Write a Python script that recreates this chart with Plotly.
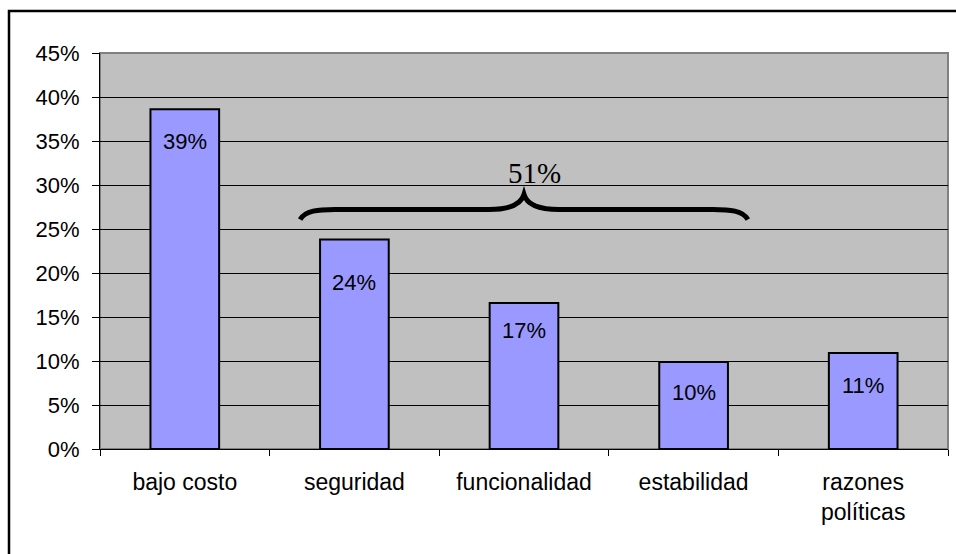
import plotly.graph_objects as go

# Survey shares by reason
categories = ["bajo costo", "seguridad", "funcionalidad", "estabilidad", "razones<br>políticas"]
shares = [0.386, 0.238, 0.166, 0.099, 0.109]
y_ticks = [0.0, 0.05, 0.10, 0.15, 0.20, 0.25, 0.30, 0.35, 0.40, 0.45]
y_tick_labels = ["0%", "5%", "10%", "15%", "20%", "25%", "30%", "35%", "40%", "45%"]

# the grouped reasons under the brace (seguridad, funcionalidad, estabilidad)
group_idx = [1, 2, 3]

# pixel offsets of each value label below its bar top
label_drop = [32, 43, 28, 31, 32]

FONT = "Liberation Sans, Arial, sans-serif"
W, H = 956, 554
M_L, M_R, M_T, M_B = 100, 8, 53, 105
Y_MAX = 0.45

fig = go.Figure()
fig.add_trace(go.Bar(
    x=categories,
    y=shares,
    marker=dict(color="#9999FF", line=dict(color="#000000", width=2)),
    hoverinfo="skip",
))

pct = [round(v * 100) for v in shares]
for c, v, p, d in zip(categories, shares, pct, label_drop):
    fig.add_annotation(
        x=c, y=v, text=f"{p}%", showarrow=False,
        yanchor="middle", yshift=-d,
        font=dict(family=FONT, size=22, color="#000000"),
    )

# brace spanning the grouped bars
n = len(categories)
def cx(i):
    return (i + 0.5) / n

left = cx(group_idx[0]) - 0.064
right = cx(group_idx[-1]) + 0.064
mid = (left + right) / 2
plot_w = W - M_L - M_R
plot_h = H - M_T - M_B
px_x = 1.0 / plot_w
px_y = Y_MAX / plot_h
base = max(shares[i] for i in group_idx) + 30 * px_y   # horizontal stroke
end_y = base - 10 * px_y                              # curled tips
peak = base + 15 * px_y                               # central cusp

def P(x, y):
    return f"{x:.5f},{y:.5f}"

path = (
    f"M {P(left, end_y)} "
    f"C {P(left + 5*px_x, base - 1*px_y)} {P(left + 18*px_x, base)} {P(left + 35*px_x, base)} "
    f"L {P(mid - 35*px_x, base)} "
    f"C {P(mid - 14*px_x, base)} {P(mid - 3*px_x, base + 5*px_y)} {P(mid, peak)} "
    f"C {P(mid + 3*px_x, base + 5*px_y)} {P(mid + 14*px_x, base)} {P(mid + 35*px_x, base)} "
    f"L {P(right - 35*px_x, base)} "
    f"C {P(right - 18*px_x, base)} {P(right - 5*px_x, base - 1*px_y)} {P(right, end_y)}"
)
fig.add_shape(type="path", path=path, xref="paper", yref="y",
              line=dict(color="#000000", width=5), layer="above")

group_total = sum(pct[i] for i in group_idx)
fig.add_annotation(
    x=mid + 10 * px_x, y=peak, xref="paper", yref="y",
    text=f"{group_total}%", showarrow=False, yanchor="bottom", yshift=4,
    font=dict(family="Liberation Serif, Times New Roman, serif", size=29, color="#000000"),
)

# plot area frame
fig.add_shape(type="rect", xref="paper", yref="paper", x0=0, y0=0, x1=1, y1=1,
              line=dict(color="#808080", width=2), layer="below")
# outer chart border
fig.add_shape(type="rect", xref="paper", yref="paper",
              x0=-(M_L - 9) / plot_w, y0=-0.5, x1=1.2, y1=1 + (M_T - 11) / plot_h,
              line=dict(color="#000000", width=2.5), layer="above")

fig.update_layout(
    width=W, height=H,
    margin=dict(l=M_L, r=M_R, t=M_T, b=M_B),
    paper_bgcolor="#FFFFFF",
    plot_bgcolor="#C0C0C0",
    bargap=0.595,
    showlegend=False,
    font=dict(family=FONT, size=22, color="#000000"),
    xaxis=dict(
        type="category",
        tickson="boundaries",
        ticks="outside", ticklen=6, tickcolor="#000000", tickwidth=1,
        showline=True, linecolor="#000000", linewidth=1,
        showgrid=False,
        ticklabelstandoff=12,
        tickfont=dict(family=FONT, size=23, color="#000000"),
    ),
    yaxis=dict(
        range=[0, Y_MAX],
        tickvals=y_ticks, ticktext=y_tick_labels,
        ticks="outside", ticklen=7, tickcolor="#000000", tickwidth=1,
        showline=True, linecolor="#000000", linewidth=1,
        showgrid=True, gridcolor="#000000", gridwidth=1,
        zeroline=False,
        ticklabelstandoff=8,
        tickfont=dict(family=FONT, size=22, color="#000000"),
    ),
)

fig.write_html("out.html")
